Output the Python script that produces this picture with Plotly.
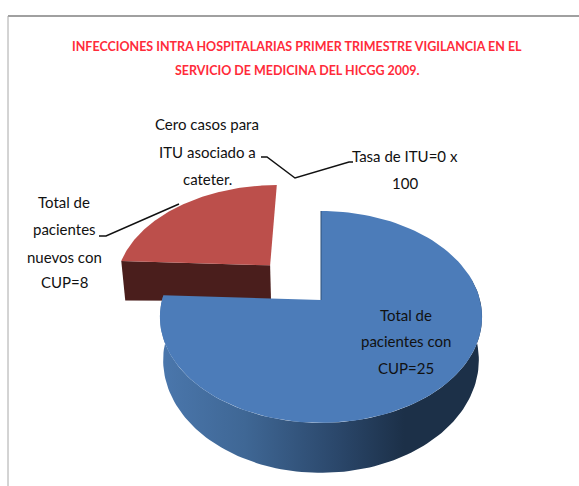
import numpy as np
import plotly.graph_objects as go

# --- data ---
categories = ["Total de pacientes con CUP", "Total de pacientes nuevos con CUP"]
values = [25, 8]
title_lines = ["INFECCIONES INTRA HOSPITALARIAS PRIMER TRIMESTRE VIGILANCIA EN EL",
               "SERVICIO DE MEDICINA DEL HICGG 2009."]
label_blue = ["Total de", "pacientes con", "CUP=25"]
label_red = ["Total de", "pacientes", "nuevos con", "CUP=8"]
label_note = ["Cero casos para", "ITU asociado a", "cateter."]
label_rate = ["Tasa de ITU=0 x", "100"]

# --- projection of the tilted 3D pie ---
X0, Y0 = 321.0, 300.0
K, A, B = 0.16, 103.2, 159.0
DEPTH = 42.0
PULL = 0.49
FONT = "Lato"


def project(u, v, drop=0.0):
    s = 1.0 / (1.0 + K * v)
    shrink = 1.0 - 0.02 * (drop / DEPTH)
    return X0 + B * u * s * shrink, Y0 - A * v * s + drop * s


def arc(t0, t1, offset=(0.0, 0.0), drop=0.0, n=120):
    t = np.radians(np.linspace(t0, t1, n))
    return project(np.sin(t) + offset[0], np.cos(t) + offset[1], drop)


total = sum(values)
sweep_blue = 360.0 * values[0] / total
mid_red = np.radians((sweep_blue + 360.0) / 2)
red_off = (PULL * np.sin(mid_red), PULL * np.cos(mid_red))

fig = go.Figure()


def poly(x, y, **kw):
    fig.add_trace(go.Scatter(x=list(x), y=list(y), mode="lines", fill="toself",
                             line=dict(width=0), hoverinfo="skip", showlegend=False, **kw))


# red slice: front cut face, then top
ax, ay = project(red_off[0], red_off[1])
cx, cy = project(np.sin(np.radians(sweep_blue)) + red_off[0], np.cos(np.radians(sweep_blue)) + red_off[1])
ax2, ay2 = project(red_off[0], red_off[1], DEPTH * 0.9)
cx2, cy2 = project(np.sin(np.radians(sweep_blue)) + red_off[0], np.cos(np.radians(sweep_blue)) + red_off[1], DEPTH)
poly([cx, ax, ax2, cx2, cx], [cy, ay, ay2, cy2, cy], fillcolor="#4a1e1c")
rx, ry = arc(sweep_blue, 360.0, red_off)
poly(np.r_[ax, rx, ax], np.r_[ay, ry, ay], fillcolor="#bc4f4b")

# blue slice: rim with gradient, then top
tx, ty = arc(78, sweep_blue)
bx, by = arc(78, sweep_blue, drop=DEPTH)
fig.add_trace(go.Scatter(
    x=list(np.r_[tx, bx[::-1], tx[0]]), y=list(np.r_[ty, by[::-1], ty[0]]),
    mode="lines", fill="toself", line=dict(width=0), hoverinfo="skip", showlegend=False,
    fillgradient=dict(type="horizontal", start=165, stop=484,
                      colorscale=[[0, "#4a76ab"], [0.25, "#3f6795"], [0.55, "#2a4669"],
                                  [0.75, "#1c3048"], [1, "#1c3048"]])))
ux, uy = arc(0, sweep_blue)
ox, oy = project(0.0, 0.0)
poly(np.r_[ox, ux, ox], np.r_[oy, uy, oy], fillcolor="#4c7cb9")

# thin dark edge of the inner cut face of the blue slice
tipx, tipy = project(0.0, 1.0)
fig.add_trace(go.Scatter(x=[tipx, ox], y=[tipy, oy], mode="lines",
                         line=dict(color="#2f5078", width=1), hoverinfo="skip", showlegend=False))

ann = []


def text_block(lines, cx_, ys, size, color="#111111", bold=False):
    for s, yy in zip(lines, ys):
        ann.append(dict(x=cx_, y=yy, text=f"<b>{s}</b>" if bold else s, showarrow=False,
                        xanchor="center", yanchor="middle",
                        font=dict(family=FONT, size=size, color=color)))


text_block(title_lines, 297, [46, 70], 12.5, "#ff2b3a", True)
text_block(label_note, 207, [124, 152, 179], 15)
text_block(label_rate, 405, [156, 183], 15)
text_block(label_red, 64, [202, 229, 257, 282], 15)
text_block(label_blue, 406, [315, 341, 368], 15)

shapes = [
    dict(type="line", x0=8, y0=16, x1=579, y1=16, line=dict(color="#a0a0a0", width=2)),
    dict(type="line", x0=8, y0=16, x1=8, y1=486, line=dict(color="#a8a8a8", width=1)),
    dict(type="path", path="M261,157 L267,157 L295,178 L349,162 L353,162",
         line=dict(color="#111111", width=1.5)),
    dict(type="path", path="M99,236 L106,236 L179,204", line=dict(color="#111111", width=1.5)),
]

fig.update_layout(
    width=579, height=486, margin=dict(l=0, r=0, t=0, b=0),
    paper_bgcolor="white", plot_bgcolor="white", showlegend=False,
    xaxis=dict(range=[0, 579], visible=False, fixedrange=True),
    yaxis=dict(range=[486, 0], visible=False, fixedrange=True),
    annotations=ann, shapes=shapes,
)
fig.write_html("out.html", config={"displayModeBar": False},
               post_script="document.body.style.margin='0';document.documentElement.style.overflow='hidden';")
